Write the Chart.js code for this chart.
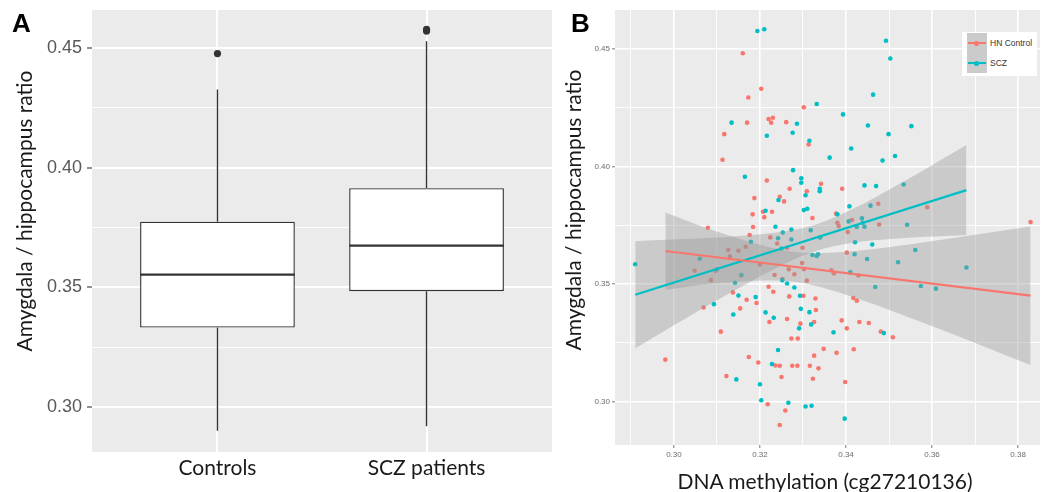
<!DOCTYPE html>
<html>
<head>
<meta charset="utf-8">
<script src="https://cdn.jsdelivr.net/npm/chart.js@4.4.1/dist/chart.umd.min.js"></script>
<style>
  html, body { margin: 0; padding: 0; background: #ffffff; width: 1044px; height: 492px; overflow: hidden; }
  #wrap { position: relative; width: 1044px; height: 492px; }
  canvas { position: absolute; top: 0; }
  #cA { left: 0; }
  #cB { left: 556px; }
  .panel { position: absolute; font-family: "Liberation Sans", Arial, sans-serif; font-weight: bold; font-size: 26px; line-height: 26px; color: #000; }
  .title { position: absolute; font-family: Lato, "Open Sans", sans-serif; font-size: 21px; color: #1a1a1a; text-align: center; white-space: nowrap; }
  .rot { transform: rotate(-90deg); }
  #legend { position: absolute; left: 962px; top: 32px; width: 75px; height: 44px; background: #ffffff; }
  .lrow { position: absolute; left: 0; height: 20px; width: 75px; }
  .lkey { position: absolute; left: 5px; top: 0; width: 20px; height: 20px; background: #cbcbcb; }
  .lline { position: absolute; left: 1px; top: 9px; width: 18px; height: 2px; }
  .ldot { position: absolute; left: 7px; top: 7.5px; width: 5px; height: 5px; border-radius: 50%; }
  .ltxt { position: absolute; left: 28px; top: 0; line-height: 20px; font-family: "Liberation Sans", Arial, sans-serif; font-size: 8.5px; color: #333; white-space: nowrap; }
</style>
</head>
<body>
<div id="wrap">
  <canvas id="cA" width="556" height="492"></canvas>
  <canvas id="cB" width="488" height="492"></canvas>
  <div class="panel" style="left:12px; top:10px;">A</div>
  <div class="panel" style="left:571px; top:10px;">B</div>
  <div class="title rot" style="left:-176px; top:198px; width:400px; height:26px; line-height:26px;">Amygdala / hippocampus ratio</div>
  <div class="title rot" style="left:373px; top:197px; width:400px; height:26px; line-height:26px;">Amygdala / hippocampus ratio</div>
  <div class="title" style="left:625px; top:468px; width:400px; height:26px; line-height:26px;">DNA methylation (cg27210136)</div>
  <div id="legend"></div>
</div>
<script>
// ---------------- Panel A data (box plot summaries) ----------------
const CATEGORIES = ['Controls', 'SCZ patients'];
const BOX_LOW_WHISKER = [0.2901, 0.2920];
const BOX_Q1 = [0.3332, 0.3484];
const BOX_MEDIAN = [0.3553, 0.3674];
const BOX_Q3 = [0.3774, 0.3914];
const BOX_HIGH_WHISKER = [0.4326, 0.4528];
const OUTLIERS_CONTROLS = [0.4476];
const OUTLIERS_SCZ = [0.4570, 0.4577];
const A_Y_TICKS = [0.30, 0.35, 0.40, 0.45];
const A_Y_TICK_LABELS = ['0.30', '0.35', '0.40', '0.45'];
const A_Y_MINOR = [0.325, 0.375, 0.425];

// ---------------- Panel B data (scatter + linear fits) ----------------
const SERIES = ['HN Control', 'SCZ'];
const HN_X = [0.3160,0.3203,0.3173,0.3302,0.3170,0.3220,0.3226,0.3230,0.3261,0.3117,0.3313,0.3113,0.3216,0.3342,0.3391,0.3269,0.3309,0.3246,0.3256,0.3187,0.3183,0.3207,0.3228,0.3210,0.3184,0.3176,0.3377,0.3380,0.3383,0.3322,0.3475,0.3589,0.3477,0.3414,0.3404,0.3079,0.3224,0.3240,0.3167,0.3126,0.3150,0.3263,0.3299,0.3200,0.3130,0.3048,0.3097,0.3267,0.3298,0.3302,0.3366,0.3372,0.3402,0.3429,0.3234,0.3280,0.3252,0.3086,0.3156,0.3309,0.3220,0.3231,0.3268,0.3301,0.3137,0.3169,0.3192,0.3329,0.3417,0.3425,0.3069,0.3154,0.3330,0.3263,0.3222,0.3294,0.3326,0.3390,0.3431,0.3453,0.3402,0.3109,0.3481,0.3273,0.3288,0.3509,0.3348,0.3418,0.3378,0.3174,0.3326,0.2980,0.3196,0.3236,0.3246,0.3275,0.3287,0.3316,0.3336,0.3122,0.3250,0.3323,0.3398,0.3218,0.3259,0.3246,0.3829];
const HN_Y = [0.4482,0.4331,0.4294,0.4252,0.4187,0.4202,0.4187,0.4208,0.4189,0.4138,0.4094,0.4029,0.3941,0.3927,0.3906,0.3906,0.3895,0.3872,0.3852,0.3866,0.3797,0.3808,0.3808,0.3785,0.3743,0.3709,0.3800,0.3761,0.3747,0.3781,0.3842,0.3827,0.3754,0.3773,0.3722,0.3740,0.3699,0.3673,0.3659,0.3646,0.3642,0.3655,0.3655,0.3584,0.3618,0.3557,0.3557,0.3563,0.3590,0.3564,0.3559,0.3546,0.3634,0.3537,0.3539,0.3542,0.3522,0.3517,0.3537,0.3515,0.3489,0.3468,0.3448,0.3451,0.3465,0.3434,0.3420,0.3439,0.3441,0.3430,0.3401,0.3397,0.3390,0.3352,0.3339,0.3332,0.3339,0.3346,0.3339,0.3335,0.3312,0.3298,0.3298,0.3269,0.3269,0.3274,0.3225,0.3223,0.3208,0.3190,0.3196,0.3179,0.3167,0.3154,0.3153,0.3153,0.3153,0.3153,0.3142,0.3109,0.3105,0.3098,0.3084,0.2989,0.2963,0.2901,0.3764];
const SCZ_X = [0.3194,0.3210,0.3493,0.3503,0.3463,0.3332,0.3393,0.3134,0.3286,0.3276,0.3216,0.3451,0.3552,0.3499,0.3315,0.3412,0.3362,0.3514,0.3485,0.3165,0.3277,0.3296,0.3296,0.3443,0.3470,0.3534,0.3339,0.3339,0.3306,0.3243,0.3213,0.3302,0.3310,0.3408,0.3457,0.3380,0.3236,0.3406,0.3437,0.3439,0.3425,0.3443,0.3542,0.3318,0.3273,0.3253,0.3242,0.3273,0.3179,0.3340,0.3421,0.3461,0.3250,0.3561,0.3060,0.3322,0.3332,0.3335,0.3420,0.3449,0.2910,0.3521,0.3680,0.3100,0.3410,0.3157,0.3252,0.3263,0.3142,0.3280,0.3468,0.3574,0.3609,0.3150,0.3190,0.3293,0.3093,0.3138,0.3213,0.3232,0.3295,0.3315,0.3319,0.3291,0.3371,0.3488,0.3242,0.3145,0.3228,0.3200,0.3203,0.3266,0.3306,0.3320,0.3397];
const SCZ_Y = [0.4577,0.4584,0.4535,0.4460,0.4306,0.4266,0.4222,0.4187,0.4182,0.4144,0.4131,0.4175,0.4172,0.4138,0.4110,0.4077,0.4038,0.4045,0.4026,0.3957,0.3985,0.3950,0.3931,0.3920,0.3917,0.3924,0.3906,0.3895,0.3878,0.3858,0.3812,0.3815,0.3821,0.3831,0.3834,0.3797,0.3744,0.3767,0.3780,0.3761,0.3743,0.3744,0.3753,0.3729,0.3732,0.3720,0.3695,0.3690,0.3680,0.3699,0.3678,0.3669,0.3652,0.3645,0.3608,0.3624,0.3620,0.3627,0.3627,0.3607,0.3585,0.3593,0.3571,0.3563,0.3550,0.3539,0.3517,0.3503,0.3506,0.3486,0.3488,0.3492,0.3481,0.3452,0.3445,0.3451,0.3415,0.3371,0.3380,0.3357,0.3395,0.3381,0.3329,0.3312,0.3295,0.3292,0.3220,0.3095,0.3160,0.3074,0.3006,0.2996,0.2980,0.2983,0.2928];
const HN_FIT_X = [0.2980, 0.3829];
const HN_FIT_Y = [0.3641, 0.3451];
const SCZ_FIT_X = [0.2910, 0.3680];
const SCZ_FIT_Y = [0.3455, 0.3900];
const HN_BAND_X = [0.2980, 0.3105, 0.3273, 0.3412, 0.3566, 0.3719, 0.3829];
const HN_BAND_UPPER = [0.3805, 0.3721, 0.3639, 0.3640, 0.3674, 0.3715, 0.3745];
const HN_BAND_LOWER = [0.3476, 0.3505, 0.3511, 0.3448, 0.3345, 0.3236, 0.3156];
const SCZ_BAND_X = [0.2910, 0.3028, 0.3144, 0.3259, 0.3332, 0.3412, 0.3527, 0.3680];
const SCZ_BAND_UPPER = [0.3683, 0.3692, 0.3704, 0.3725, 0.3755, 0.3816, 0.3929, 0.4092];
const SCZ_BAND_LOWER = [0.3227, 0.3355, 0.3476, 0.3588, 0.3642, 0.3675, 0.3695, 0.3709];
const B_X_TICKS = [0.30, 0.32, 0.34, 0.36, 0.38];
const B_X_TICK_LABELS = ['0.30', '0.32', '0.34', '0.36', '0.38'];
const B_X_MINOR = [0.29, 0.31, 0.33, 0.35, 0.37];
const B_Y_TICKS = [0.30, 0.35, 0.40, 0.45];
const B_Y_TICK_LABELS = ['0.30', '0.35', '0.40', '0.45'];
const B_Y_MINOR = [0.325, 0.375, 0.425];

// ---------------- styles ----------------
const HN_COLOR = '#F8766D';
const SCZ_COLOR = '#00BFC4';
const BAND_FILL = 'rgba(153,153,153,0.4)';
const PANEL_BG = '#EBEBEB';
const BOX_W = 0.74;

// ---------------- helpers ----------------
const panelBg = {
  id: 'panelBg',
  beforeDraw(chart) {
    const a = chart.chartArea, ctx = chart.ctx;
    ctx.save();
    ctx.fillStyle = PANEL_BG;
    ctx.fillRect(a.left, a.top, a.right - a.left, a.bottom - a.top);
    ctx.restore();
  }
};
function fixedTicks(major, minor) {
  return function (scale) {
    const all = major.map(v => ({ value: v, minor: false }))
      .concat(minor.map(v => ({ value: v, minor: true })));
    all.sort((p, q) => p.value - q.value);
    scale.ticks = all;
  };
}
function tickLabel(major, labels) {
  return function (value, index, ticks) {
    const t = ticks[index];
    if (!t || t.minor) return '';
    const k = major.findIndex(m => Math.abs(m - t.value) < 1e-9);
    return k >= 0 ? labels[k] : '';
  };
}
function fitSize(prop, size) {
  return function (scale) {
    scale[prop] = size;
    scale.paddingTop = 0; scale.paddingBottom = 0; scale.paddingLeft = 0; scale.paddingRight = 0;
  };
}
function pts(xs, ys) { return xs.map((x, i) => ({ x: x, y: ys[i] })); }
const gridWidth = (maj, min) => ctx => (ctx.tick && ctx.tick.minor) ? min : maj;
const tickCol = col => ctx => (ctx.tick && ctx.tick.minor) ? 'rgba(0,0,0,0)' : col;

// ---------------- Panel A ----------------
const boxData = CATEGORIES.map((c, i) => ({ x: i + 1, y: [BOX_Q1[i], BOX_Q3[i]] }));
const whiskerData = [];
const medianData = [];
CATEGORIES.forEach((c, i) => {
  const x = i + 1;
  whiskerData.push({ x: x, y: BOX_Q3[i] }, { x: x, y: BOX_HIGH_WHISKER[i] }, { x: x, y: null },
                   { x: x, y: BOX_Q1[i] }, { x: x, y: BOX_LOW_WHISKER[i] }, { x: x, y: null });
  medianData.push({ x: x - BOX_W / 2, y: BOX_MEDIAN[i] }, { x: x + BOX_W / 2, y: BOX_MEDIAN[i] }, { x: x, y: null });
});
const outlierData = OUTLIERS_CONTROLS.map(v => ({ x: 1, y: v }))
  .concat(OUTLIERS_SCZ.map(v => ({ x: 2, y: v })));

new Chart(document.getElementById('cA'), {
  type: 'scatter',
  data: {
    datasets: [
      { type: 'scatter', data: outlierData, pointRadius: 3.6, pointBackgroundColor: '#333333', pointBorderWidth: 0, order: 0 },
      { type: 'line', data: medianData, borderColor: '#333333', borderWidth: 2.4, pointRadius: 0, spanGaps: false, order: 1 },
      { type: 'bar', data: boxData, backgroundColor: '#ffffff', borderColor: '#333333', borderWidth: 1.4,
        borderSkipped: false, barPercentage: BOX_W, categoryPercentage: 1, order: 2 },
      { type: 'line', data: whiskerData, borderColor: '#333333', borderWidth: 1.4, pointRadius: 0, spanGaps: false, order: 3 }
    ]
  },
  options: {
    responsive: false, animation: false, devicePixelRatio: 1,
    layout: { padding: { top: 10, right: 0, bottom: 0, left: 0 } },
    plugins: { legend: { display: false }, tooltip: { enabled: false } },
    scales: {
      x: {
        type: 'linear', min: 0.4, max: 2.6, offset: false,
        afterBuildTicks: fixedTicks([1, 2], []),
        afterFit: fitSize('height', 40),
        grid: { color: '#ffffff', lineWidth: 2, drawTicks: false, offset: false },
        border: { display: false },
        ticks: {
          autoSkip: false, maxRotation: 0, padding: 4, color: '#1a1a1a',
          font: { family: 'Lato', size: 21 },
          callback: tickLabel([1, 2], CATEGORIES)
        }
      },
      y: {
        type: 'linear', min: 0.28125, max: 0.4658,
        afterBuildTicks: fixedTicks(A_Y_TICKS, A_Y_MINOR),
        afterFit: fitSize('width', 92),
        grid: { color: '#ffffff', lineWidth: gridWidth(2, 1.1), tickLength: 5, tickColor: tickCol('#555555'), tickWidth: 1.3 },
        border: { display: false },
        ticks: {
          autoSkip: false, padding: 5, color: '#595959',
          font: { family: 'Liberation Sans', size: 18 },
          callback: tickLabel(A_Y_TICKS, A_Y_TICK_LABELS)
        }
      }
    }
  },
  plugins: [panelBg]
});

// ---------------- Panel B ----------------
new Chart(document.getElementById('cB'), {
  type: 'scatter',
  data: {
    datasets: [
      { type: 'line', label: SERIES[0], data: pts(HN_FIT_X, HN_FIT_Y), borderColor: HN_COLOR, borderWidth: 2.2, pointRadius: 0, fill: false, order: 0 },
      { type: 'line', label: SERIES[1], data: pts(SCZ_FIT_X, SCZ_FIT_Y), borderColor: SCZ_COLOR, borderWidth: 2.2, pointRadius: 0, fill: false, order: 0 },
      { type: 'line', data: pts(HN_BAND_X, HN_BAND_UPPER), borderWidth: 0, borderColor: 'rgba(0,0,0,0)', pointRadius: 0, tension: 0.35, fill: '+1', backgroundColor: BAND_FILL, order: 1 },
      { type: 'line', data: pts(HN_BAND_X, HN_BAND_LOWER), borderWidth: 0, borderColor: 'rgba(0,0,0,0)', pointRadius: 0, tension: 0.35, fill: false, order: 1 },
      { type: 'line', data: pts(SCZ_BAND_X, SCZ_BAND_UPPER), borderWidth: 0, borderColor: 'rgba(0,0,0,0)', pointRadius: 0, tension: 0.35, fill: '+1', backgroundColor: BAND_FILL, order: 1 },
      { type: 'line', data: pts(SCZ_BAND_X, SCZ_BAND_LOWER), borderWidth: 0, borderColor: 'rgba(0,0,0,0)', pointRadius: 0, tension: 0.35, fill: false, order: 1 },
      { type: 'scatter', label: SERIES[1], data: pts(SCZ_X, SCZ_Y), pointRadius: 2.3, pointBackgroundColor: SCZ_COLOR, pointBorderWidth: 0, order: 2 },
      { type: 'scatter', label: SERIES[0], data: pts(HN_X, HN_Y), pointRadius: 2.3, pointBackgroundColor: HN_COLOR, pointBorderWidth: 0, order: 2 }
    ]
  },
  options: {
    responsive: false, animation: false, devicePixelRatio: 1,
    layout: { padding: { top: 10, right: 0, bottom: 0, left: 0 } },
    plugins: { legend: { display: false }, tooltip: { enabled: false }, filler: { propagate: false } },
    scales: {
      x: {
        type: 'linear', min: 0.2863, max: 0.3851,
        afterBuildTicks: fixedTicks(B_X_TICKS, B_X_MINOR),
        afterFit: fitSize('height', 47),
        grid: { color: '#ffffff', lineWidth: gridWidth(1.6, 0.9), tickLength: 3, tickColor: tickCol('#777777'), tickWidth: 1 },
        border: { display: false },
        ticks: {
          autoSkip: false, maxRotation: 0, padding: 2, color: '#6b6b6b',
          font: { family: 'Liberation Sans', size: 8 },
          callback: tickLabel(B_X_TICKS, B_X_TICK_LABELS)
        }
      },
      y: {
        type: 'linear', min: 0.2816, max: 0.4666,
        afterBuildTicks: fixedTicks(B_Y_TICKS, B_Y_MINOR),
        afterFit: fitSize('width', 59),
        grid: { color: '#ffffff', lineWidth: gridWidth(1.6, 0.9), tickLength: 3, tickColor: tickCol('#777777'), tickWidth: 1 },
        border: { display: false },
        ticks: {
          autoSkip: false, padding: 2, color: '#6b6b6b',
          font: { family: 'Liberation Sans', size: 8 },
          callback: tickLabel(B_Y_TICKS, B_Y_TICK_LABELS)
        }
      }
    }
  },
  plugins: [panelBg]
});

// ---------------- Legend (panel B) ----------------
const legend = document.getElementById('legend');
[[SERIES[0], HN_COLOR], [SERIES[1], SCZ_COLOR]].forEach((s, i) => {
  const row = document.createElement('div');
  row.className = 'lrow';
  row.style.top = (1 + i * 20) + 'px';
  row.innerHTML = '<div class="lkey"><div class="lline" style="background:' + s[1] + '"></div>' +
    '<div class="ldot" style="background:' + s[1] + '"></div></div><div class="ltxt">' + s[0] + '</div>';
  legend.appendChild(row);
});
</script>
</body>
</html>
